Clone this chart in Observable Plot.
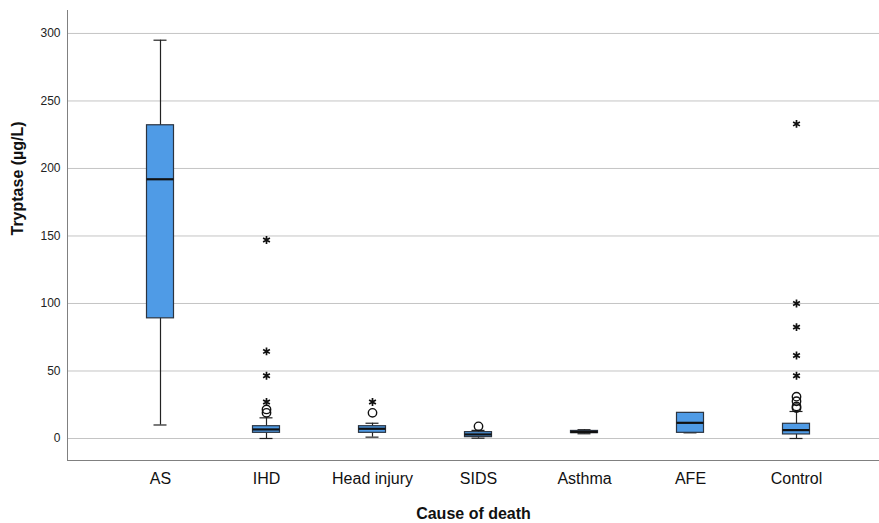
<!DOCTYPE html>
<html>
<head>
<meta charset="utf-8">
<script src="https://cdn.jsdelivr.net/npm/d3@7"></script>
<script src="https://cdn.jsdelivr.net/npm/@observablehq/plot@0.6"></script>
<style>
  html, body { margin: 0; padding: 0; background: #fff; }
  #chart { width: 879px; height: 523px; }
</style>
</head>
<body>
<div id="chart"></div>
<script>
// ---- data ----
const categories   = ["AS", "IHD", "Head injury", "SIDS", "Asthma", "AFE", "Control"];
const lowWhisker   = [10,   0,    1,    0.2,  3.5,  4.2,  0];
const q1           = [89,   4.2,  4.2,  1,    4,    4.2,  3];
const median       = [192,  6.7,  7.2,  3,    4.8,  11.6, 6.2];
const q3           = [232,  9.1,  9.1,  4.7,  5.6,  19,   10.9];
const highWhisker  = [295,  15.3, 11.3, 6,    6.5,  19,   20];

const circleCat = ["IHD", "IHD", "Head injury", "SIDS", "Control", "Control", "Control", "Control"];
const circleVal = [19,    21.5,  19,            9,      22.5,      23.7,      27.6,      31];

const starCat = ["IHD", "IHD", "IHD", "IHD", "Head injury", "Control", "Control", "Control", "Control", "Control"];
const starVal = [27,    46.5,  64.5,  147,   27,            46.5,      61.5,      82.5,      100,       233];

const yTicks = [0, 50, 100, 150, 200, 250, 300];
const yDomain = [-16.3, 317];
const yTitle = ["Tryptase (µg/L)"];
const xTitle = ["Cause of death"];

// ---- tables built from the arrays ----
const stats = categories.map((c, i) => ({
  cat: c, lo: lowWhisker[i], q1: q1[i], med: median[i], q3: q3[i], hi: highWhisker[i]
}));
const circles = circleCat.map((c, i) => ({cat: c, v: circleVal[i]}));
const stars = starCat.map((c, i) => ({cat: c, v: starVal[i]}));

const boxInset = 39.5;
const capInset = 46.5;

const chart = Plot.plot({
  width: 879,
  height: 523,
  marginTop: 10,
  marginBottom: 63,
  marginLeft: 67,
  marginRight: 0,
  style: {fontFamily: "'Liberation Sans', Arial, sans-serif", color: "#111", background: "#fff"},
  x: {type: "band", domain: categories, paddingInner: 0, paddingOuter: 0.33, align: 0.57, axis: null},
  y: {domain: yDomain, axis: null},
  marks: [
    Plot.ruleY(yTicks, {stroke: "#c4c4c4", strokeWidth: 1}),
    Plot.axisY(yTicks, {tickSize: 0, tickPadding: 7, fontSize: 12, label: null, fill: "#222"}),
    Plot.axisX({tickSize: 0, tickPadding: 12, fontSize: 16, label: null, fill: "#111"}),
    Plot.frame({anchor: "left", stroke: "#808080"}),
    Plot.frame({anchor: "bottom", stroke: "#808080"}),
    // whiskers
    Plot.ruleX(stats, {x: "cat", y1: "lo", y2: "hi", stroke: "#222", strokeWidth: 1.2}),
    Plot.tickY(stats, {x: "cat", y: "lo", stroke: "#222", strokeWidth: 1.2, insetLeft: capInset, insetRight: capInset}),
    Plot.tickY(stats, {x: "cat", y: "hi", stroke: "#222", strokeWidth: 1.2, insetLeft: capInset, insetRight: capInset}),
    // boxes
    Plot.barY(stats, {x: "cat", y1: "q1", y2: "q3", fill: "#4f9be6", stroke: "#2b3440", strokeWidth: 1.2, insetLeft: boxInset, insetRight: boxInset}),
    Plot.tickY(stats, {x: "cat", y: "med", stroke: "#111", strokeWidth: 2.2, insetLeft: boxInset, insetRight: boxInset}),
    // outliers
    Plot.dot(circles, {x: "cat", y: "v", r: 4.2, stroke: "#111", fill: "none", strokeWidth: 1.4}),
    Plot.dot(stars, {x: "cat", y: "v", symbol: "asterisk", r: 3.7, stroke: "#111", strokeWidth: 1.7}),
    // titles
    Plot.text(yTitle, {frameAnchor: "left", dx: -50, rotate: -90, fontSize: 16, fontWeight: "bold", fill: "#111"}),
    Plot.text(xTitle, {frameAnchor: "bottom", dy: 58, fontSize: 16, fontWeight: "bold", fill: "#111"})
  ]
});
document.getElementById("chart").appendChild(chart);
</script>
</body>
</html>
